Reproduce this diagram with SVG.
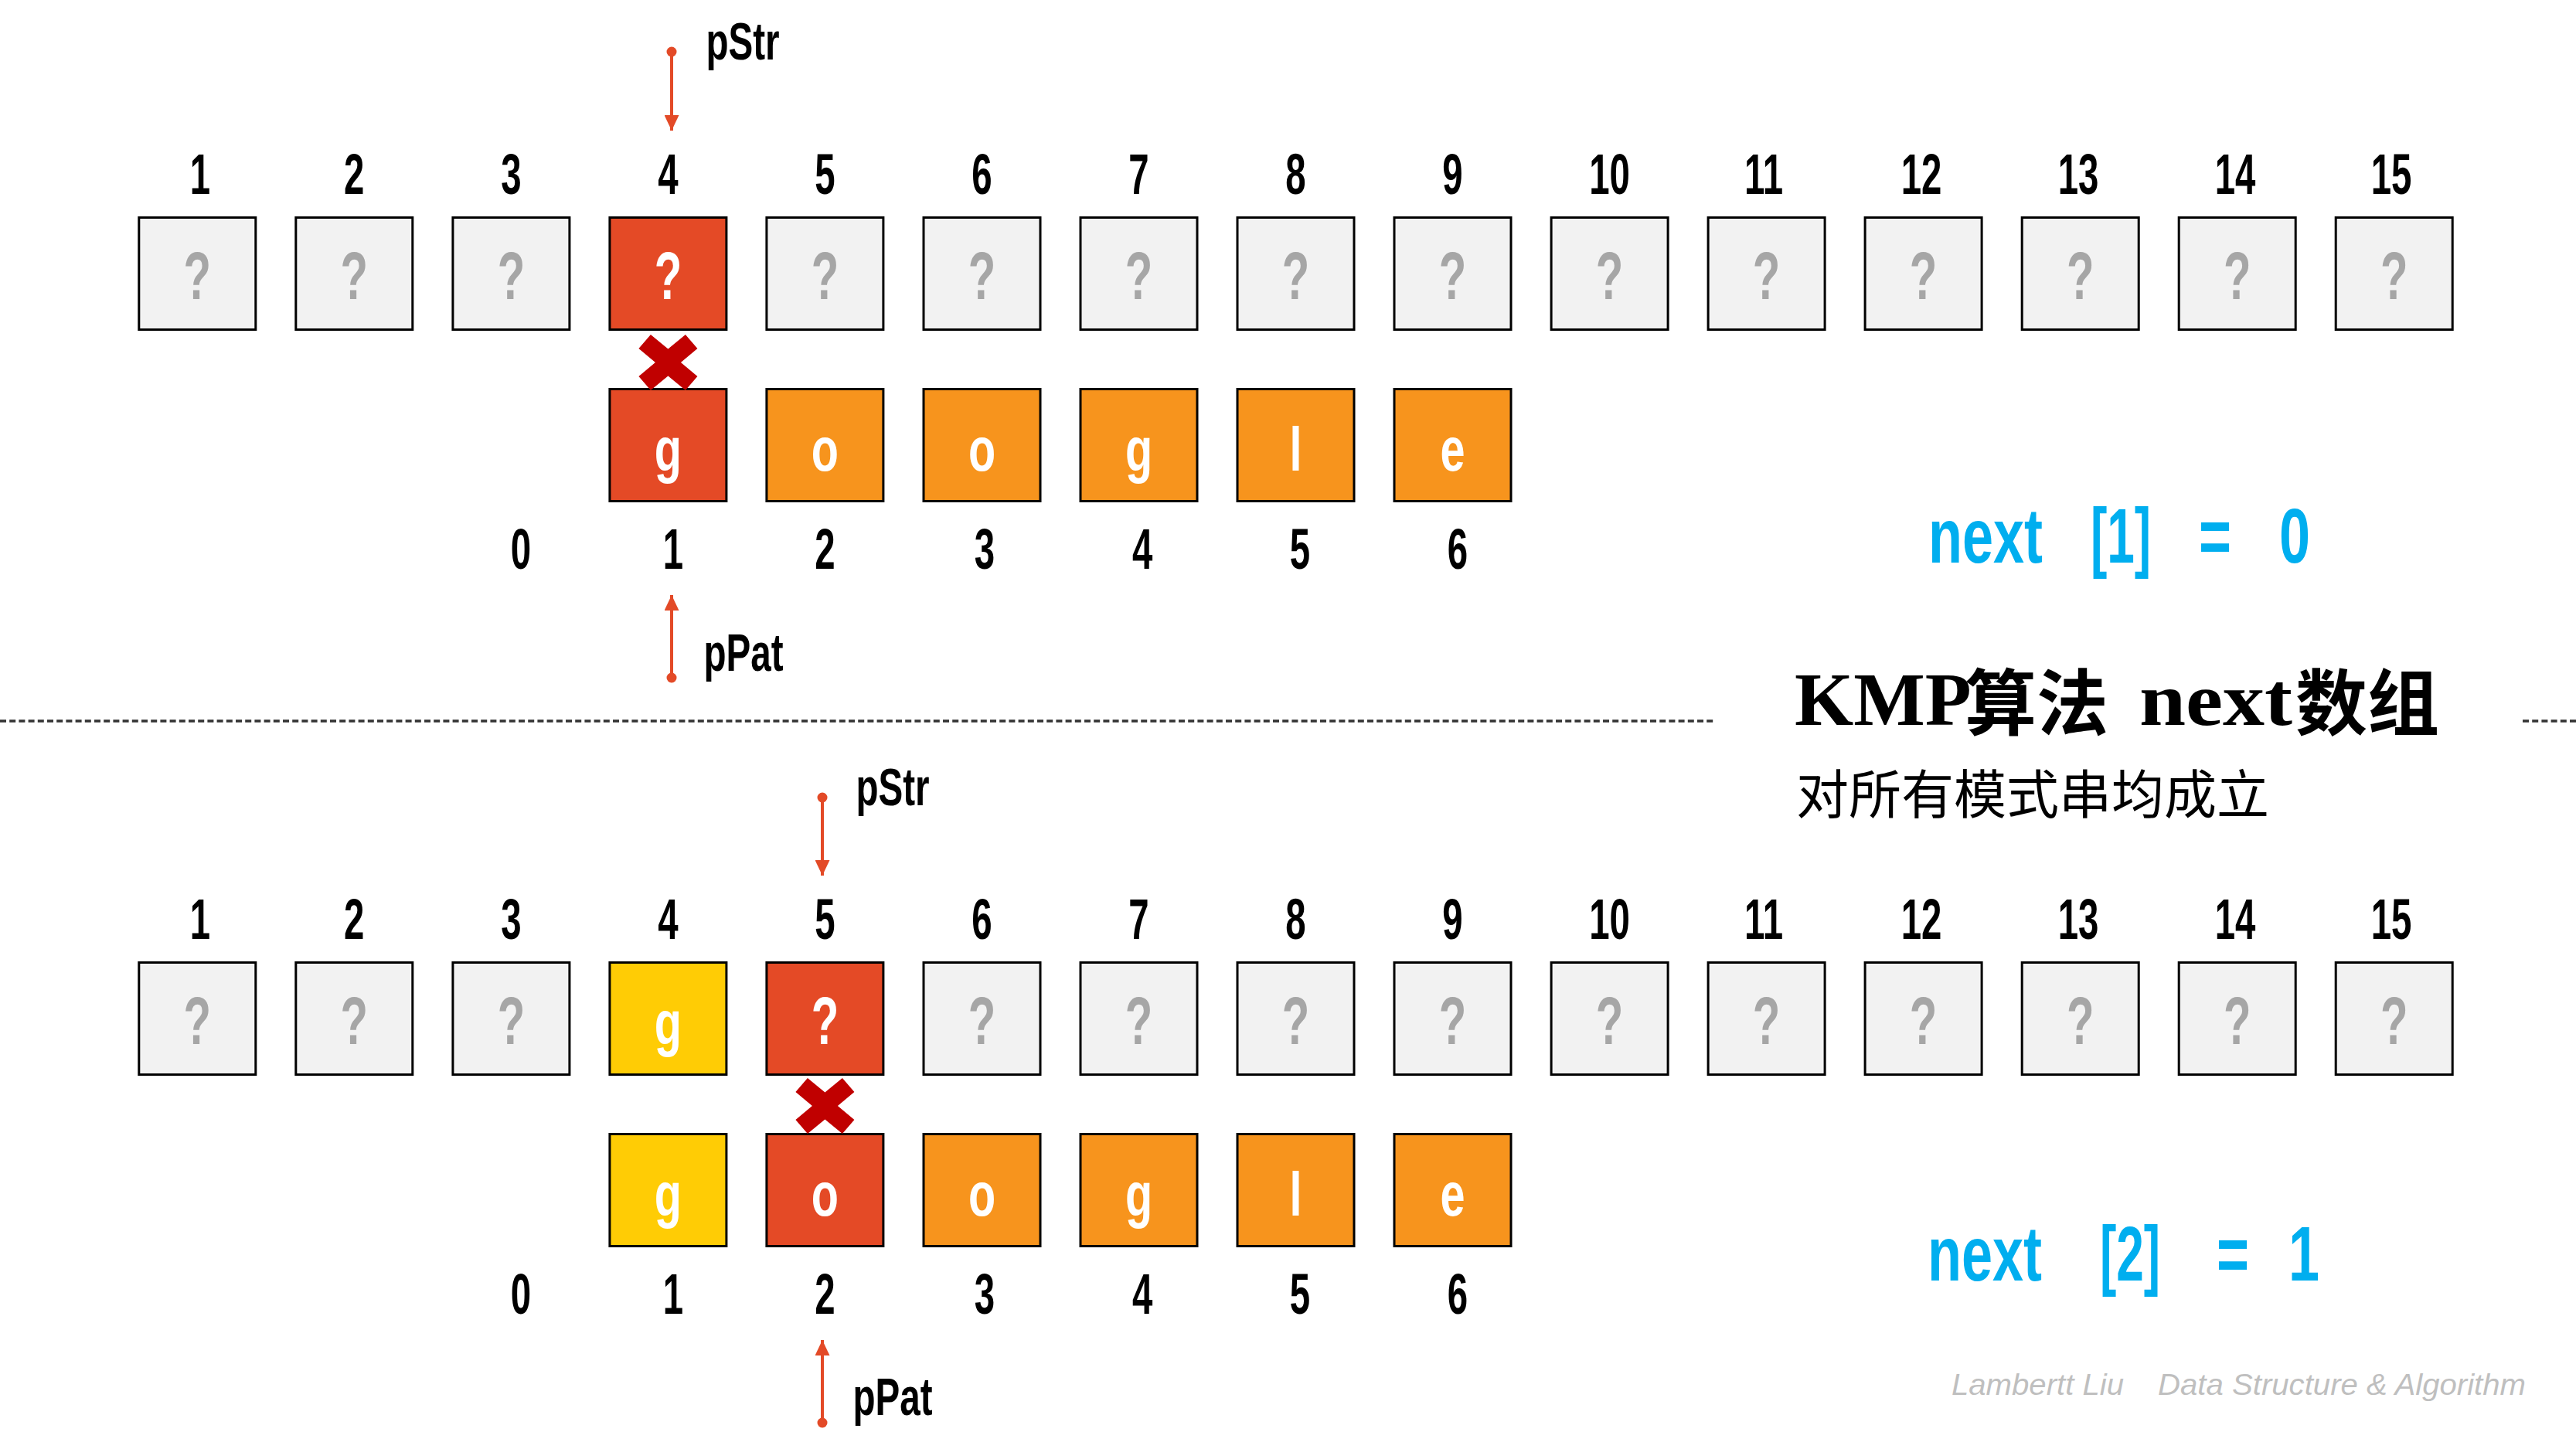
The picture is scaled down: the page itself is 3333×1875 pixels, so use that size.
<svg xmlns="http://www.w3.org/2000/svg" xmlns:xlink="http://www.w3.org/1999/xlink" width="3333" height="1875" viewBox="0 0 3333 1875">
<style>
.box{stroke:#000;stroke-width:3}
.g{fill:#F2F2F2}.r{fill:#E44A26}.o{fill:#F7941D}.y{fill:#FFCC05}
.cn{font-family:"Liberation Sans",Arial,sans-serif;font-weight:bold;text-anchor:middle;transform-box:fill-box;transform-origin:center}
.idx{font-size:74px;fill:#000;transform:scaleX(0.64)}
.qm{font-size:88px;fill:#A6A6A6;transform:scaleX(0.66)}
.w{fill:#fff}
.let{font-size:80px;fill:#fff;transform:scaleX(0.72)}
.ptr{font-size:68px;fill:#000;transform:scaleX(0.7)}
.nx{font-size:100px;fill:#00AEEF;transform:scaleX(0.72)}
.nb{transform:scaleX(0.64)}
.lnk{stroke:#E34A27;stroke-width:4;fill:none;marker-start:url(#dot);marker-end:url(#arr)}
.dash{stroke:#333;stroke-width:3.3;stroke-dasharray:8 4.2}
.tl{font-family:"Liberation Serif","Times New Roman",serif;font-weight:bold;font-size:98px;fill:#000}
.tc{font-family:"Noto Sans CJK SC",sans-serif;font-weight:bold;font-size:93px;fill:#000}
.sub{font-family:"Liberation Serif","Noto Sans CJK SC",sans-serif;font-size:68px;fill:#000}
.ft{font-family:"Liberation Sans",Arial,sans-serif;font-style:italic;font-size:38px;fill:#BFBFBF}
.xm{fill:#C00000}
</style>
<defs>
<marker id="arr" markerUnits="userSpaceOnUse" markerWidth="20" markerHeight="19" refX="20" refY="9.5" orient="auto"><path d="M0,0 L20,9.5 L0,19 Z" fill="#E34A27"/></marker>
<marker id="dot" markerUnits="userSpaceOnUse" markerWidth="16" markerHeight="16" refX="8" refY="8" orient="auto"><circle cx="8" cy="8" r="6.5" fill="#E34A27"/></marker>
<path id="xmark" d="M-22.5,-36 L0,-17.5 L22.5,-36 L38,-18 L16.5,0 L38,18 L22.5,36 L0,17.5 L-22.5,36 L-38,18 L-16.5,0 L-38,-18 Z"/>
</defs>
<rect width="3333" height="1875" fill="#fff"/>

<g id="divider">
<line class="dash" x1="0" y1="933" x2="2218" y2="933"/>
<line class="dash" x1="3264" y1="933" x2="3333" y2="933"/>
</g>

<!-- ===== TOP SECTION ===== -->
<g id="top-index">
<text class="cn idx" x="259" y="251">1</text>
<text class="cn idx" x="458.3" y="251">2</text>
<text class="cn idx" x="661.4" y="251">3</text>
<text class="cn idx" x="864.4" y="251">4</text>
<text class="cn idx" x="1067.4" y="251">5</text>
<text class="cn idx" x="1270.5" y="251">6</text>
<text class="cn idx" x="1473.5" y="251">7</text>
<text class="cn idx" x="1676.5" y="251">8</text>
<text class="cn idx" x="1879.5" y="251">9</text>
<text class="cn idx" x="2082.6" y="251">10</text>
<text class="cn idx" x="2282" y="251">11</text>
<text class="cn idx" x="2486" y="251">12</text>
<text class="cn idx" x="2689" y="251">13</text>
<text class="cn idx" x="2892" y="251">14</text>
<text class="cn idx" x="3094" y="251">15</text>
</g>
<g id="s1-1"><rect class="box g" x="179.8" y="281.5" width="151" height="145"/><text class="cn qm" x="255.3" y="387">?</text></g>
<g id="s1-2"><rect class="box g" x="382.8" y="281.5" width="151" height="145"/><text class="cn qm" x="458.3" y="387">?</text></g>
<g id="s1-3"><rect class="box g" x="585.9" y="281.5" width="151" height="145"/><text class="cn qm" x="661.4" y="387">?</text></g>
<g id="s1-4"><rect class="box r" x="788.9" y="281.5" width="151" height="145"/><text class="cn qm w" x="864.4" y="387">?</text></g>
<g id="s1-5"><rect class="box g" x="991.9" y="281.5" width="151" height="145"/><text class="cn qm" x="1067.4" y="387">?</text></g>
<g id="s1-6"><rect class="box g" x="1195" y="281.5" width="151" height="145"/><text class="cn qm" x="1270.5" y="387">?</text></g>
<g id="s1-7"><rect class="box g" x="1398" y="281.5" width="151" height="145"/><text class="cn qm" x="1473.5" y="387">?</text></g>
<g id="s1-8"><rect class="box g" x="1601" y="281.5" width="151" height="145"/><text class="cn qm" x="1676.5" y="387">?</text></g>
<g id="s1-9"><rect class="box g" x="1804" y="281.5" width="151" height="145"/><text class="cn qm" x="1879.5" y="387">?</text></g>
<g id="s1-10"><rect class="box g" x="2007.1" y="281.5" width="151" height="145"/><text class="cn qm" x="2082.6" y="387">?</text></g>
<g id="s1-11"><rect class="box g" x="2210.1" y="281.5" width="151" height="145"/><text class="cn qm" x="2285.6" y="387">?</text></g>
<g id="s1-12"><rect class="box g" x="2413.1" y="281.5" width="151" height="145"/><text class="cn qm" x="2488.6" y="387">?</text></g>
<g id="s1-13"><rect class="box g" x="2616.2" y="281.5" width="151" height="145"/><text class="cn qm" x="2691.7" y="387">?</text></g>
<g id="s1-14"><rect class="box g" x="2819.2" y="281.5" width="151" height="145"/><text class="cn qm" x="2894.7" y="387">?</text></g>
<g id="s1-15"><rect class="box g" x="3022.2" y="281.5" width="151" height="145"/><text class="cn qm" x="3097.7" y="387">?</text></g>

<g id="p1-1"><rect class="box r" x="788.9" y="503.5" width="151" height="145"/><text class="cn let" x="864.4" y="609">g</text></g>
<g id="p1-2"><rect class="box o" x="991.9" y="503.5" width="151" height="145"/><text class="cn let" x="1067.4" y="609">o</text></g>
<g id="p1-3"><rect class="box o" x="1195" y="503.5" width="151" height="145"/><text class="cn let" x="1270.5" y="609">o</text></g>
<g id="p1-4"><rect class="box o" x="1398" y="503.5" width="151" height="145"/><text class="cn let" x="1473.5" y="609">g</text></g>
<g id="p1-5"><rect class="box o" x="1601" y="503.5" width="151" height="145"/><text class="cn let" x="1676.5" y="609">l</text></g>
<g id="p1-6"><rect class="box o" x="1804" y="503.5" width="151" height="145"/><text class="cn let" x="1879.5" y="609">e</text></g>

<g id="mismatch1"><use href="#xmark" class="xm" x="864.4" y="469"/></g>

<g id="pat-index1">
<text class="cn idx" x="674" y="736">0</text>
<text class="cn idx" x="871" y="736">1</text>
<text class="cn idx" x="1067.4" y="736">2</text>
<text class="cn idx" x="1274" y="736">3</text>
<text class="cn idx" x="1478" y="736">4</text>
<text class="cn idx" x="1682" y="736">5</text>
<text class="cn idx" x="1886" y="736">6</text>
</g>

<g id="pstr1"><text class="cn ptr" x="961" y="77">pStr</text></g>
<g id="ppat1"><text class="cn ptr" x="962" y="868">pPat</text></g>

<g id="next1">
<text class="cn nx" x="2569" y="728">next</text>
<text class="cn nx nb" x="2744" y="728">[1]</text>
<text class="cn nx" x="2866" y="728">=</text>
<text class="cn nx" x="2969" y="728">0</text>
</g>

<g id="title">
<text class="tl" x="2322" y="938">KMP</text>
<text class="tc" x="2542" y="944">算法</text>
<text class="tl" x="2768" y="938" textLength="198" lengthAdjust="spacingAndGlyphs">next</text>
<text class="tc" x="2970" y="944">数组</text>
<text class="sub" x="2324" y="1053">对所有模式串均成立</text>
</g>

<!-- ===== BOTTOM SECTION ===== -->
<g id="bottom-index">
<text class="cn idx" x="259" y="1215">1</text>
<text class="cn idx" x="458.3" y="1215">2</text>
<text class="cn idx" x="661.4" y="1215">3</text>
<text class="cn idx" x="864.4" y="1215">4</text>
<text class="cn idx" x="1067.4" y="1215">5</text>
<text class="cn idx" x="1270.5" y="1215">6</text>
<text class="cn idx" x="1473.5" y="1215">7</text>
<text class="cn idx" x="1676.5" y="1215">8</text>
<text class="cn idx" x="1879.5" y="1215">9</text>
<text class="cn idx" x="2082.6" y="1215">10</text>
<text class="cn idx" x="2282" y="1215">11</text>
<text class="cn idx" x="2486" y="1215">12</text>
<text class="cn idx" x="2689" y="1215">13</text>
<text class="cn idx" x="2892" y="1215">14</text>
<text class="cn idx" x="3094" y="1215">15</text>
</g>
<g id="s2-1"><rect class="box g" x="179.8" y="1245.5" width="151" height="145"/><text class="cn qm" x="255.3" y="1351">?</text></g>
<g id="s2-2"><rect class="box g" x="382.8" y="1245.5" width="151" height="145"/><text class="cn qm" x="458.3" y="1351">?</text></g>
<g id="s2-3"><rect class="box g" x="585.9" y="1245.5" width="151" height="145"/><text class="cn qm" x="661.4" y="1351">?</text></g>
<g id="s2-4"><rect class="box y" x="788.9" y="1245.5" width="151" height="145"/><text class="cn let" x="864.4" y="1351">g</text></g>
<g id="s2-5"><rect class="box r" x="991.9" y="1245.5" width="151" height="145"/><text class="cn qm w" x="1067.4" y="1351">?</text></g>
<g id="s2-6"><rect class="box g" x="1195" y="1245.5" width="151" height="145"/><text class="cn qm" x="1270.5" y="1351">?</text></g>
<g id="s2-7"><rect class="box g" x="1398" y="1245.5" width="151" height="145"/><text class="cn qm" x="1473.5" y="1351">?</text></g>
<g id="s2-8"><rect class="box g" x="1601" y="1245.5" width="151" height="145"/><text class="cn qm" x="1676.5" y="1351">?</text></g>
<g id="s2-9"><rect class="box g" x="1804" y="1245.5" width="151" height="145"/><text class="cn qm" x="1879.5" y="1351">?</text></g>
<g id="s2-10"><rect class="box g" x="2007.1" y="1245.5" width="151" height="145"/><text class="cn qm" x="2082.6" y="1351">?</text></g>
<g id="s2-11"><rect class="box g" x="2210.1" y="1245.5" width="151" height="145"/><text class="cn qm" x="2285.6" y="1351">?</text></g>
<g id="s2-12"><rect class="box g" x="2413.1" y="1245.5" width="151" height="145"/><text class="cn qm" x="2488.6" y="1351">?</text></g>
<g id="s2-13"><rect class="box g" x="2616.2" y="1245.5" width="151" height="145"/><text class="cn qm" x="2691.7" y="1351">?</text></g>
<g id="s2-14"><rect class="box g" x="2819.2" y="1245.5" width="151" height="145"/><text class="cn qm" x="2894.7" y="1351">?</text></g>
<g id="s2-15"><rect class="box g" x="3022.2" y="1245.5" width="151" height="145"/><text class="cn qm" x="3097.7" y="1351">?</text></g>

<g id="p2-1"><rect class="box y" x="788.9" y="1467.5" width="151" height="145"/><text class="cn let" x="864.4" y="1573">g</text></g>
<g id="p2-2"><rect class="box r" x="991.9" y="1467.5" width="151" height="145"/><text class="cn let" x="1067.4" y="1573">o</text></g>
<g id="p2-3"><rect class="box o" x="1195" y="1467.5" width="151" height="145"/><text class="cn let" x="1270.5" y="1573">o</text></g>
<g id="p2-4"><rect class="box o" x="1398" y="1467.5" width="151" height="145"/><text class="cn let" x="1473.5" y="1573">g</text></g>
<g id="p2-5"><rect class="box o" x="1601" y="1467.5" width="151" height="145"/><text class="cn let" x="1676.5" y="1573">l</text></g>
<g id="p2-6"><rect class="box o" x="1804" y="1467.5" width="151" height="145"/><text class="cn let" x="1879.5" y="1573">e</text></g>

<g id="mismatch2"><use href="#xmark" class="xm" x="1067.4" y="1431"/></g>

<g id="pat-index2">
<text class="cn idx" x="674" y="1700">0</text>
<text class="cn idx" x="871" y="1700">1</text>
<text class="cn idx" x="1067.4" y="1700">2</text>
<text class="cn idx" x="1274" y="1700">3</text>
<text class="cn idx" x="1478" y="1700">4</text>
<text class="cn idx" x="1682" y="1700">5</text>
<text class="cn idx" x="1886" y="1700">6</text>
</g>

<g id="pstr2"><text class="cn ptr" x="1155" y="1042">pStr</text></g>
<g id="ppat2"><text class="cn ptr" x="1155" y="1831">pPat</text></g>

<g id="next2">
<text class="cn nx" x="2568" y="1657">next</text>
<text class="cn nx nb" x="2756" y="1657">[2]</text>
<text class="cn nx" x="2889" y="1657">=</text>
<text class="cn nx" x="2981" y="1657">1</text>
</g>

<g id="footer">
<text class="ft" x="2525" y="1805" textLength="223" lengthAdjust="spacingAndGlyphs">Lambertt Liu</text>
<text class="ft" x="2792" y="1805" textLength="476" lengthAdjust="spacingAndGlyphs">Data Structure &amp; Algorithm</text>
</g>

<g id="connectors">
<line class="lnk" x1="869" y1="67" x2="869" y2="169"/>
<line class="lnk" x1="869" y1="877" x2="869" y2="770"/>
<line class="lnk" x1="1064" y1="1032" x2="1064" y2="1133"/>
<line class="lnk" x1="1064" y1="1841" x2="1064" y2="1734"/>
</g>
</svg>
